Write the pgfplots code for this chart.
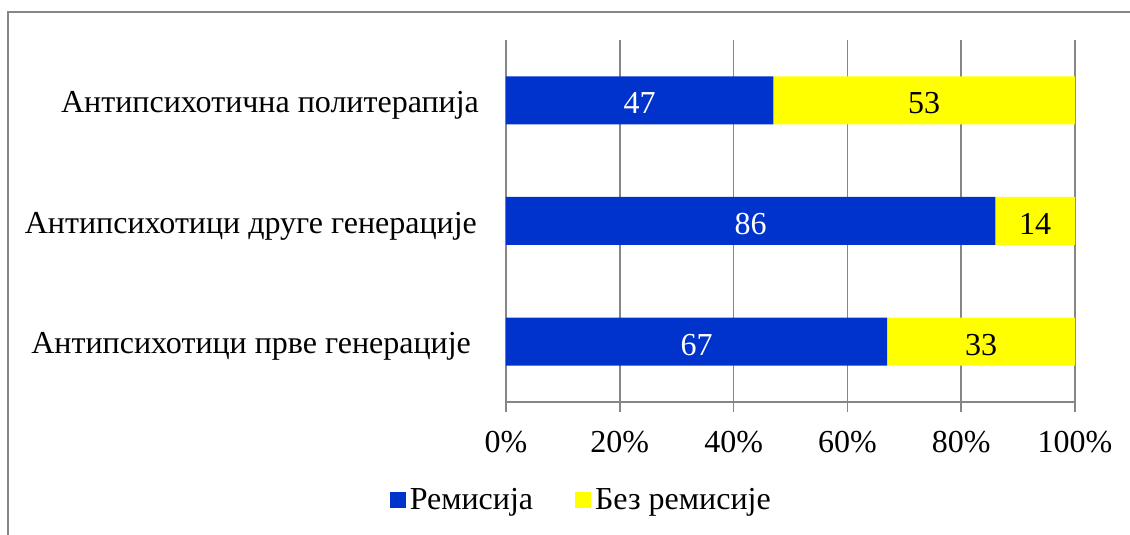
\documentclass[border=0pt]{standalone}
\usepackage{pgfplots}
\pgfplotsset{compat=1.18}
\usepackage{pgfplotstable}
\usepackage{fontspec}
\setmainfont{Liberation Serif}
\definecolor{remblue}{RGB}{0,51,204}
\definecolor{bezyellow}{RGB}{255,255,0}
\definecolor{axgray}{RGB}{134,134,134}
\pgfplotsset{sqlegend/.style={legend image code/.code={\fill[##1] (0pt,-4pt) rectangle (8pt,4pt);}}}

\pgfplotstableread{
y rem bez
0 67 33
1 86 14
2 47 53
}\data

\begin{document}
\begin{tikzpicture}
\useasboundingbox (0pt,0pt) rectangle (565pt,267.5pt);
\draw[axgray, line width=0.75pt] (4pt,0pt) -- (4pt,261.5pt) -- (565pt,261.5pt);
\begin{axis}[
 at={(253pt,66.5pt)}, anchor=south west,
 width=284.5pt, height=181pt, scale only axis,
 xbar stacked, bar width=24pt,
 xmin=0, xmax=100, ymin=-0.5, ymax=2.5,
 axis x line*=bottom, axis y line*=left,
 axis line style={axgray, line width=0.75pt},
 tick align=outside,
 xtick={0,20,40,60,80,100},
 xticklabels={0\%,20\%,40\%,60\%,80\%,100\%},
 x tick style={axgray, line width=0.75pt},
 xmajorgrids, major grid style={axgray, line width=0.75pt},
 major tick length=5pt,
 ytick={0,1,2},
 yticklabels={Антипсихотици прве генерације\hspace*{4pt}, Антипсихотици друге генерације\hspace*{1pt}, Антипсихотична политерапија},
 y tick style={draw=none},
 extra y ticks={-0.5,0.5,1.5,2.5},
 extra y tick labels={},
 extra y tick style={grid=none, tick style={draw=axgray, line width=0.75pt}},
 ticklabel style={font=\fontsize{16}{19}\selectfont},
 yticklabel style={xshift=-5pt, yshift=-2.5pt},
 xticklabel style={yshift=-6pt},
 legend style={at={(0.134,-0.271)}, anchor=center, draw=none, fill=none,
   legend columns=2, font=\fontsize{16}{19}\selectfont,
   /tikz/every even column/.append style={column sep=19pt}},
]
\addplot[fill=remblue, draw=none, sqlegend,
  point meta=explicit symbolic,
  nodes near coords,
  every node near coord/.append style={anchor=center, text=white, font=\fontsize{16}{19}\selectfont, yshift=-1.5pt}]
  table[x=rem, y=y, meta=rem] {\data};
\addlegendentry{Ремисија}
\addplot[fill=bezyellow, draw=none, sqlegend,
  point meta=explicit symbolic,
  nodes near coords,
  every node near coord/.append style={anchor=center, text=black, font=\fontsize{16}{19}\selectfont, yshift=-1.5pt}]
  table[x=bez, y=y, meta=bez] {\data};
\addlegendentry{Без ремисије}
\end{axis}
\end{tikzpicture}
\end{document}
